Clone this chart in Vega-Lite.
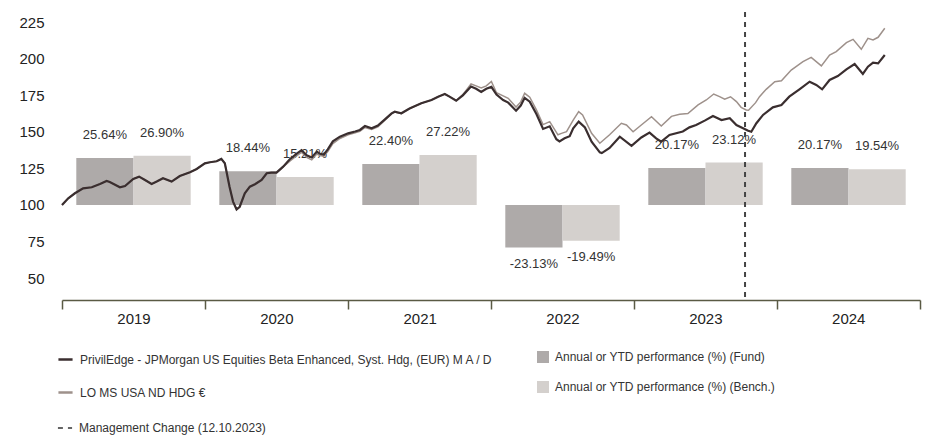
{
"$schema":"https://vega.github.io/schema/vega-lite/v6.json",
"width":858,"height":288,
"autosize":{"type":"none"},
"padding":{"left":62,"top":12,"right":7,"bottom":138},
"config":{"font":"Liberation Sans","view":{"stroke":null}},
"datasets":{
"bars":[
{"year":"2019","k":"Fund","p":0.2564},{"year":"2019","k":"Bench","p":0.2690},
{"year":"2020","k":"Fund","p":0.1844},{"year":"2020","k":"Bench","p":0.1521},
{"year":"2021","k":"Fund","p":0.2240},{"year":"2021","k":"Bench","p":0.2722},
{"year":"2022","k":"Fund","p":-0.2313},{"year":"2022","k":"Bench","p":-0.1949},
{"year":"2023","k":"Fund","p":0.2017},{"year":"2023","k":"Bench","p":0.2312},
{"year":"2024","k":"Fund","p":0.2017},{"year":"2024","k":"Bench","p":0.1954}
],
"event":[{"d":"2023-10-12","e":"Management Change (12.10.2023)"}],
"lines":[
{"s":"F","d":"2019-01-01","v":100},{"s":"F","d":"2019-01-17","v":104.6},{"s":"F","d":"2019-02-03","v":108},{"s":"F","d":"2019-02-24","v":111.4},{"s":"F","d":"2019-03-18","v":112.1},{"s":"F","d":"2019-04-08","v":114.4},{"s":"F","d":"2019-04-25","v":116.4},{"s":"F","d":"2019-05-03","v":115.7},{"s":"F","d":"2019-05-29","v":112.1},{"s":"F","d":"2019-06-11","v":113},{"s":"F","d":"2019-07-02","v":117.8},{"s":"F","d":"2019-07-17","v":119.4},{"s":"F","d":"2019-08-01","v":117.1},{"s":"F","d":"2019-08-18","v":114.4},{"s":"F","d":"2019-08-31","v":116},{"s":"F","d":"2019-09-16","v":118.3},{"s":"F","d":"2019-10-08","v":116},{"s":"F","d":"2019-10-29","v":119.8},{"s":"F","d":"2019-11-24","v":122.4},{"s":"F","d":"2019-12-11","v":124.6},
{"s":"F","d":"2020-01-01","v":128.5},{"s":"F","d":"2020-01-14","v":129.2},{"s":"F","d":"2020-01-31","v":129.9},{"s":"F","d":"2020-02-12","v":131.5},{"s":"F","d":"2020-02-21","v":128.5},{"s":"F","d":"2020-03-04","v":112.5},{"s":"F","d":"2020-03-13","v":102.3},{"s":"F","d":"2020-03-22","v":97},{"s":"F","d":"2020-03-30","v":98.8},{"s":"F","d":"2020-04-12","v":108},{"s":"F","d":"2020-04-25","v":112.5},{"s":"F","d":"2020-05-08","v":114.2},{"s":"F","d":"2020-05-25","v":117.1},{"s":"F","d":"2020-06-07","v":121.7},{"s":"F","d":"2020-06-19","v":122.1},{"s":"F","d":"2020-07-02","v":122.1},{"s":"F","d":"2020-07-19","v":126.2},{"s":"F","d":"2020-08-05","v":131.3},{"s":"F","d":"2020-08-22","v":134.9},{"s":"F","d":"2020-09-04","v":137.5},{"s":"F","d":"2020-09-17","v":134},{"s":"F","d":"2020-09-30","v":132.5},{"s":"F","d":"2020-10-13","v":136.5},{"s":"F","d":"2020-10-21","v":135},{"s":"F","d":"2020-10-31","v":134.5},{"s":"F","d":"2020-11-10","v":138},{"s":"F","d":"2020-11-23","v":143.5},{"s":"F","d":"2020-12-11","v":146.7},
{"s":"F","d":"2021-01-01","v":149},{"s":"F","d":"2021-01-19","v":150.3},{"s":"F","d":"2021-01-31","v":151.3},{"s":"F","d":"2021-02-13","v":154},{"s":"F","d":"2021-03-02","v":152.5},{"s":"F","d":"2021-03-18","v":154.3},{"s":"F","d":"2021-04-05","v":158.6},{"s":"F","d":"2021-04-22","v":162.7},{"s":"F","d":"2021-04-30","v":163.8},{"s":"F","d":"2021-05-17","v":162.7},{"s":"F","d":"2021-06-07","v":166},{"s":"F","d":"2021-07-07","v":169.6},{"s":"F","d":"2021-08-02","v":171.8},{"s":"F","d":"2021-08-19","v":174.1},{"s":"F","d":"2021-09-05","v":175.9},{"s":"F","d":"2021-09-17","v":174.1},{"s":"F","d":"2021-10-04","v":171.3},{"s":"F","d":"2021-10-21","v":175},{"s":"F","d":"2021-11-11","v":181},{"s":"F","d":"2021-11-24","v":179.5},{"s":"F","d":"2021-12-07","v":177.3},{"s":"F","d":"2021-12-20","v":179.5},
{"s":"F","d":"2022-01-02","v":180.8},{"s":"F","d":"2022-01-15","v":175.5},{"s":"F","d":"2022-02-01","v":171.8},{"s":"F","d":"2022-02-14","v":170},{"s":"F","d":"2022-03-06","v":164.5},{"s":"F","d":"2022-03-18","v":168},{"s":"F","d":"2022-03-28","v":173.3},{"s":"F","d":"2022-04-10","v":170.7},{"s":"F","d":"2022-04-27","v":162.2},{"s":"F","d":"2022-05-14","v":152},{"s":"F","d":"2022-05-31","v":153.8},{"s":"F","d":"2022-06-17","v":145},{"s":"F","d":"2022-06-25","v":143.5},{"s":"F","d":"2022-07-08","v":145.6},{"s":"F","d":"2022-07-21","v":147},{"s":"F","d":"2022-07-30","v":152.5},{"s":"F","d":"2022-08-13","v":157},{"s":"F","d":"2022-08-29","v":153},{"s":"F","d":"2022-09-15","v":143.3},{"s":"F","d":"2022-10-06","v":136},{"s":"F","d":"2022-10-11","v":135.5},{"s":"F","d":"2022-10-31","v":139},{"s":"F","d":"2022-11-26","v":146.7},{"s":"F","d":"2022-12-26","v":140.5},
{"s":"F","d":"2023-01-20","v":146.2},{"s":"F","d":"2023-02-10","v":149.5},{"s":"F","d":"2023-02-27","v":145.6},{"s":"F","d":"2023-03-12","v":143.3},{"s":"F","d":"2023-04-02","v":147.9},{"s":"F","d":"2023-05-06","v":150.3},{"s":"F","d":"2023-05-23","v":153.1},{"s":"F","d":"2023-06-09","v":154.7},{"s":"F","d":"2023-07-01","v":157.7},{"s":"F","d":"2023-07-22","v":160.9},{"s":"F","d":"2023-08-13","v":158.1},{"s":"F","d":"2023-09-03","v":159.3},{"s":"F","d":"2023-09-20","v":154.7},{"s":"F","d":"2023-10-07","v":152.5},{"s":"F","d":"2023-10-20","v":150.8},{"s":"F","d":"2023-10-28","v":150.1},{"s":"F","d":"2023-11-10","v":155.9},{"s":"F","d":"2023-11-27","v":161.6},{"s":"F","d":"2023-12-22","v":166.8},
{"s":"F","d":"2024-01-13","v":168.4},{"s":"F","d":"2024-02-02","v":174.1},{"s":"F","d":"2024-02-28","v":179.1},{"s":"F","d":"2024-03-25","v":184.3},{"s":"F","d":"2024-04-11","v":182.1},{"s":"F","d":"2024-04-26","v":179.1},{"s":"F","d":"2024-05-15","v":185.5},{"s":"F","d":"2024-06-05","v":188.2},{"s":"F","d":"2024-06-27","v":192.8},{"s":"F","d":"2024-07-18","v":196.4},{"s":"F","d":"2024-08-08","v":189.6},{"s":"F","d":"2024-08-21","v":194.6},{"s":"F","d":"2024-09-03","v":197.3},{"s":"F","d":"2024-09-16","v":196.9},{"s":"F","d":"2024-10-03","v":202.6},
{"s":"B","d":"2019-01-01","v":100},{"s":"B","d":"2019-01-17","v":104.6},{"s":"B","d":"2019-02-03","v":108},{"s":"B","d":"2019-02-24","v":111.4},{"s":"B","d":"2019-03-18","v":112.1},{"s":"B","d":"2019-04-08","v":114.4},{"s":"B","d":"2019-04-25","v":116.4},{"s":"B","d":"2019-05-03","v":115.7},{"s":"B","d":"2019-05-29","v":112.1},{"s":"B","d":"2019-06-11","v":113},{"s":"B","d":"2019-07-02","v":117.8},{"s":"B","d":"2019-07-17","v":119.4},{"s":"B","d":"2019-08-01","v":117.1},{"s":"B","d":"2019-08-18","v":114.4},{"s":"B","d":"2019-08-31","v":116},{"s":"B","d":"2019-09-16","v":118.3},{"s":"B","d":"2019-10-08","v":116},{"s":"B","d":"2019-10-29","v":119.8},{"s":"B","d":"2019-11-24","v":122.4},{"s":"B","d":"2019-12-11","v":124.6},
{"s":"B","d":"2020-01-01","v":128.5},{"s":"B","d":"2020-01-14","v":129.2},{"s":"B","d":"2020-01-31","v":129.9},{"s":"B","d":"2020-02-12","v":131.5},{"s":"B","d":"2020-02-21","v":128.5},{"s":"B","d":"2020-03-04","v":112.5},{"s":"B","d":"2020-03-13","v":102.3},{"s":"B","d":"2020-03-22","v":97},{"s":"B","d":"2020-03-30","v":98.8},{"s":"B","d":"2020-04-12","v":108},{"s":"B","d":"2020-04-25","v":112.5},{"s":"B","d":"2020-05-08","v":114.2},{"s":"B","d":"2020-05-25","v":117.1},{"s":"B","d":"2020-06-07","v":121.7},{"s":"B","d":"2020-06-19","v":122.1},{"s":"B","d":"2020-07-02","v":122.1},{"s":"B","d":"2020-07-19","v":126},{"s":"B","d":"2020-08-05","v":130},{"s":"B","d":"2020-08-22","v":133.5},{"s":"B","d":"2020-09-04","v":136},{"s":"B","d":"2020-09-17","v":132.5},{"s":"B","d":"2020-09-30","v":130.8},{"s":"B","d":"2020-10-13","v":134.8},{"s":"B","d":"2020-10-21","v":133.8},{"s":"B","d":"2020-10-31","v":133.3},{"s":"B","d":"2020-11-10","v":136.5},{"s":"B","d":"2020-11-23","v":142},{"s":"B","d":"2020-12-11","v":145.5},
{"s":"B","d":"2021-01-01","v":148},{"s":"B","d":"2021-01-19","v":149.3},{"s":"B","d":"2021-01-31","v":150.3},{"s":"B","d":"2021-02-13","v":153},{"s":"B","d":"2021-03-02","v":151.7},{"s":"B","d":"2021-03-18","v":153.5},{"s":"B","d":"2021-04-05","v":158},{"s":"B","d":"2021-04-22","v":162.3},{"s":"B","d":"2021-04-30","v":163.5},{"s":"B","d":"2021-05-17","v":162.5},{"s":"B","d":"2021-06-07","v":166},{"s":"B","d":"2021-07-07","v":169.6},{"s":"B","d":"2021-08-02","v":171.8},{"s":"B","d":"2021-08-19","v":174.1},{"s":"B","d":"2021-09-05","v":175.9},{"s":"B","d":"2021-09-17","v":174.1},{"s":"B","d":"2021-10-04","v":171.5},{"s":"B","d":"2021-10-21","v":175.5},{"s":"B","d":"2021-11-11","v":182.8},{"s":"B","d":"2021-11-24","v":181.5},{"s":"B","d":"2021-12-07","v":180},{"s":"B","d":"2021-12-20","v":181.5},
{"s":"B","d":"2022-01-02","v":184.5},{"s":"B","d":"2022-01-15","v":176.8},{"s":"B","d":"2022-02-01","v":174.6},{"s":"B","d":"2022-02-14","v":173},{"s":"B","d":"2022-03-06","v":167},{"s":"B","d":"2022-03-18","v":170.5},{"s":"B","d":"2022-03-28","v":176.4},{"s":"B","d":"2022-04-10","v":173.7},{"s":"B","d":"2022-04-27","v":165},{"s":"B","d":"2022-05-14","v":155},{"s":"B","d":"2022-05-31","v":157},{"s":"B","d":"2022-06-21","v":148},{"s":"B","d":"2022-06-30","v":149},{"s":"B","d":"2022-07-13","v":150.1},{"s":"B","d":"2022-07-30","v":158.1},{"s":"B","d":"2022-08-13","v":163.8},{"s":"B","d":"2022-08-23","v":161.6},{"s":"B","d":"2022-09-15","v":149},{"s":"B","d":"2022-10-06","v":142.2},{"s":"B","d":"2022-10-31","v":148},{"s":"B","d":"2022-11-30","v":155.9},{"s":"B","d":"2022-12-13","v":154.7},{"s":"B","d":"2022-12-30","v":150.1},
{"s":"B","d":"2023-01-20","v":154.7},{"s":"B","d":"2023-02-15","v":160.4},{"s":"B","d":"2023-03-12","v":154},{"s":"B","d":"2023-04-07","v":160.6},{"s":"B","d":"2023-04-28","v":162},{"s":"B","d":"2023-05-19","v":162.5},{"s":"B","d":"2023-06-14","v":168.4},{"s":"B","d":"2023-07-05","v":171.8},{"s":"B","d":"2023-07-24","v":175.9},{"s":"B","d":"2023-08-08","v":174.1},{"s":"B","d":"2023-08-21","v":172.3},{"s":"B","d":"2023-09-05","v":174},{"s":"B","d":"2023-09-20","v":170.7},{"s":"B","d":"2023-10-02","v":166.8},{"s":"B","d":"2023-10-15","v":165},{"s":"B","d":"2023-10-21","v":164.8},{"s":"B","d":"2023-11-08","v":170},{"s":"B","d":"2023-11-18","v":174.1},{"s":"B","d":"2023-12-05","v":179.1},{"s":"B","d":"2023-12-27","v":184.3},
{"s":"B","d":"2024-01-13","v":185},{"s":"B","d":"2024-02-07","v":192.3},{"s":"B","d":"2024-03-08","v":198},{"s":"B","d":"2024-03-29","v":201},{"s":"B","d":"2024-04-24","v":195.1},{"s":"B","d":"2024-05-15","v":202.6},{"s":"B","d":"2024-06-01","v":204.9},{"s":"B","d":"2024-06-27","v":211},{"s":"B","d":"2024-07-14","v":213.3},{"s":"B","d":"2024-08-04","v":206.5},{"s":"B","d":"2024-08-21","v":214},{"s":"B","d":"2024-09-03","v":212.9},{"s":"B","d":"2024-09-16","v":214.7},{"s":"B","d":"2024-10-03","v":220.9}
]
},
"layer":[
{
"data":{"name":"bars"},
"encoding":{
"x":{"field":"year","type":"ordinal","scale":{"paddingInner":0,"paddingOuter":0},"axis":null},
"xOffset":{"field":"k","type":"nominal","scale":{"domain":["Fund","Bench"],"paddingInner":0,"paddingOuter":0.25}},
"y":{"field":"p","type":"quantitative","scale":{"domain":[-0.5177,1.0518],"nice":false},"axis":null}
},
"layer":[
{"mark":{"type":"bar"},
"encoding":{"fill":{"field":"k","type":"nominal","scale":{"domain":["Fund","Bench"],"range":["#aeaaa9","#d4d0cd"]},
"legend":{"title":null,"orient":"none","legendX":475,"legendY":339,"direction":"vertical","symbolType":"square","symbolSize":144,"symbolStrokeWidth":0,"rowPadding":18,"padding":0,"labelFontSize":12,"labelColor":"#333","labelLimit":0,"labelOffset":6,
"labelExpr":"datum.value == 'Fund' ? 'Annual or YTD performance (%) (Fund)' : 'Annual or YTD performance (%) (Bench.)'"}}}},
{"transform":[{"filter":"datum.p >= 0"}],"mark":{"type":"text","dy":-23,"fontSize":13,"color":"#333","baseline":"middle"},
"encoding":{"text":{"field":"p","type":"quantitative","format":".2%"}}},
{"transform":[{"filter":"datum.p < 0"},{"calculate":"'-' + format(-datum.p, '.2%')","as":"t"}],"mark":{"type":"text","dy":16.5,"fontSize":13,"color":"#333","baseline":"middle"},
"encoding":{"text":{"field":"t","type":"nominal"}}}
]
},
{
"data":{"name":"lines"},
"encoding":{
"x":{"field":"d","type":"temporal","scale":{"type":"utc","domain":[{"year":2019,"month":1,"date":1,"utc":true},{"year":2025,"month":1,"date":1,"utc":true}]},
"axis":{"orient":"bottom","title":null,"grid":false,
"values":[{"year":2019,"month":1,"date":1,"utc":true},{"year":2020,"month":1,"date":1,"utc":true},{"year":2021,"month":1,"date":1,"utc":true},{"year":2022,"month":1,"date":1,"utc":true},{"year":2023,"month":1,"date":1,"utc":true},{"year":2024,"month":1,"date":1,"utc":true},{"year":2025,"month":1,"date":1,"utc":true}],
"labelExpr":"utcyear(datum.value) > 2024 ? '' : '' + utcyear(datum.value)",
"labelOffset":71.5,"labelFlush":false,"labelOverlap":false,"labelBound":false,
"tickSize":9,"tickColor":"#5a5a44","tickWidth":1.5,"domainColor":"#5a5a44","domainWidth":1.5,
"labelFontSize":15,"labelColor":"#222","labelPadding":2}}
},
"layer":[
{"transform":[{"filter":"datum.s == 'B'"}],"mark":{"type":"line","strokeWidth":1.5},
"encoding":{
"y":{"field":"v","type":"quantitative","scale":{"domain":[35,232],"nice":false,"zero":false},
"axis":{"orient":"left","title":null,"values":[50,75,100,125,150,175,200,225],"domain":false,"ticks":false,"labelPadding":18,"labelFontSize":15,"labelColor":"#222","gridColor":"#d2d2d2","gridWidth":1.2}},
"stroke":{"field":"s","type":"nominal","scale":{"domain":["F","B"],"range":["#3a2e2f","#9e918b"]},
"legend":{"title":null,"orient":"none","legendX":-5,"legendY":339,"direction":"vertical","symbolType":"stroke","symbolSize":200,"symbolStrokeWidth":2.5,"rowPadding":18,"padding":0,"labelFontSize":12,"labelColor":"#333","labelLimit":0,"labelOffset":6,
"labelExpr":"datum.value == 'F' ? 'PrivilEdge - JPMorgan US Equities Beta Enhanced, Syst. Hdg, (EUR) M A / D' : 'LO MS USA ND HDG €'"}}}},
{"transform":[{"filter":"datum.s == 'F'"}],"mark":{"type":"line","strokeWidth":2.2},
"encoding":{
"y":{"field":"v","type":"quantitative"},
"stroke":{"field":"s","type":"nominal"}}},
{"data":{"name":"event"},"mark":{"type":"rule","strokeWidth":2,"color":"#444"},
"encoding":{"x":{"field":"d","type":"temporal"},
"strokeDash":{"field":"e","type":"nominal","scale":{"range":[[5,5]]},
"legend":{"title":null,"orient":"none","legendX":-5,"legendY":408,"symbolType":"stroke","symbolSize":200,"symbolStrokeWidth":1.5,"symbolStrokeColor":"#333","padding":0,"labelFontSize":12,"labelColor":"#333","labelLimit":0,"labelOffset":6}}}}
]
}
],
"resolve":{"scale":{"x":"independent","y":"independent"}}
}
